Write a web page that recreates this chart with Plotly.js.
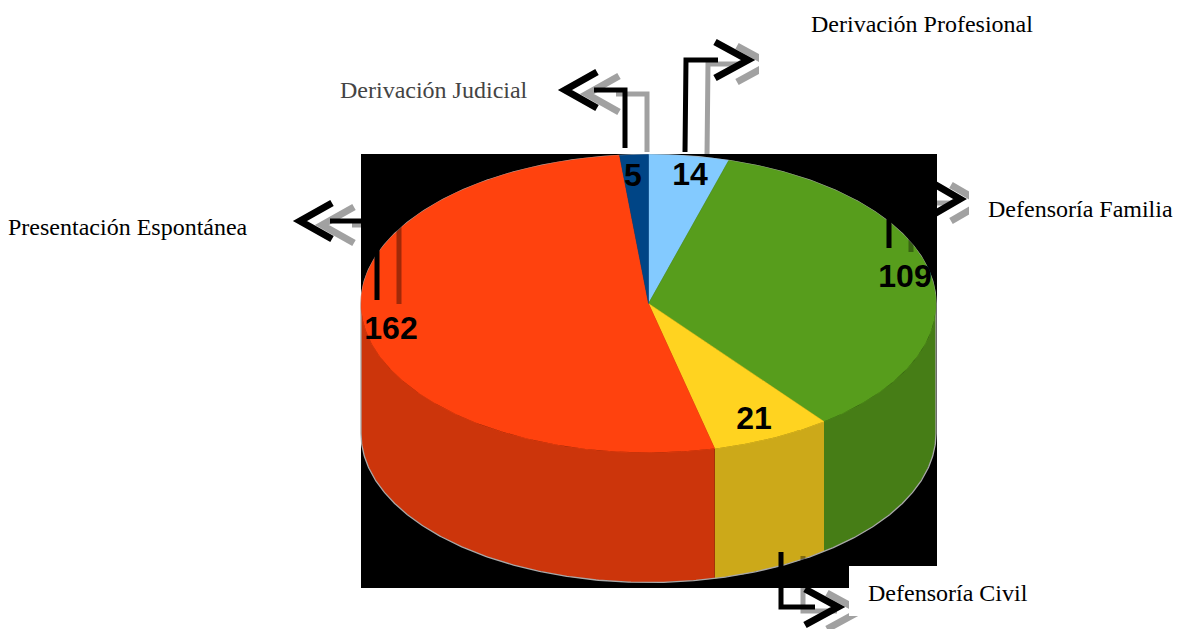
<!DOCTYPE html>
<html>
<head>
<meta charset="utf-8">
<script src="https://cdn.plot.ly/plotly-3.0.1.min.js"></script>
<style>html,body{margin:0;padding:0;background:#fff}#c{width:1178px;height:629px}</style>
</head>
<body>
<div id="c"></div>
<script>
// Data, clockwise from 12 o'clock
const categories = ['Derivación Profesional','Defensoría Familia','Defensoría Civil','Presentación Espontánea','Derivación Judicial'];
const values = [14,109,21,162,5];
const topColors = ['#83caff','#579d1c','#ffd320','#ff420e','#004586'];
const sideColors = ['#699fcc','#467d16','#cca919','#cc350b','#00376b'];
const categoryColors = ['#000000','#000000','#000000','#000000','#444444'];

// Layout of the drawing
const W = 1178, H = 629;
const pie = {cx:648.5, cy:303.5, rx:287.5, ry:149, depth:130};
const labelX = [690,905,754,391,633];
const labelY = [177,279,421,331,178];
const catX = [809,986,866,6,338];
const catY = [24,209,593,227,90];
const shadowDx = 22, shadowDy = 4;
const leaders = [
  {line:[[685,152],[686,60],[718,60]], chev:[[715,42],[748,60],[715,78]]},
  {line:[[889,248],[889,199],[930,199]], chev:[[929,181],[960,199],[929,217]]},
  {line:[[781,552],[781,607],[815,607]], chev:[[805,589],[838,607],[805,625]]},
  {line:[[377,300],[377,221],[330,221]], chev:[[332,203],[300,221],[332,239]]},
  {line:[[625,148],[625,90],[594,90]], chev:[[597,72],[565,90],[597,108]]}
];
const whiteBoxes = [[759,36,1040,92],[969,170,1178,232],[849,566,1060,616]];

function ex(a){return pie.cx+pie.rx*Math.sin(a*Math.PI/180);}
function ey(a){return pie.cy-pie.ry*Math.cos(a*Math.PI/180);}
function arc(a0,a1,dy){
  const n=Math.max(2,Math.ceil(Math.abs(a1-a0)*2)), xs=[], ys=[];
  for(let i=0;i<=n;i++){const a=a0+(a1-a0)*i/n; xs.push(ex(a)); ys.push(ey(a)+dy);}
  return [xs,ys];
}
const total = values.reduce((s,v)=>s+v,0);
let start = 0;
const sides = [], tops = [];
values.forEach((v,i)=>{
  const end = start+v/total*360;
  const s0=Math.max(start,90), s1=Math.min(end,270);
  if(s1>s0){
    const [tx,ty]=arc(s0,s1,0), [bx,by]=arc(s1,s0,pie.depth);
    sides.push({type:'scatter',mode:'lines',x:tx.concat(bx),y:ty.concat(by),fill:'toself',fillcolor:sideColors[i],line:{width:0},hoverinfo:'skip'});
  }
  const [ax,ay]=arc(start,end,0);
  tops.push({type:'scatter',mode:'lines',x:[pie.cx].concat(ax,[pie.cx]),y:[pie.cy].concat(ay,[pie.cy]),fill:'toself',fillcolor:topColors[i],line:{width:0.5,color:topColors[i]},hoverinfo:'skip'});
  start = end;
});
const [ux,uy]=arc(-90,90,0), [lx,ly]=arc(90,270,pie.depth);
const outline = {type:'scatter',mode:'lines',x:ux.concat(lx,[ux[0]]),y:uy.concat(ly,[uy[0]]),line:{width:1.3,color:'#a8a8a8'},hoverinfo:'skip'};
const labels = {type:'scatter',mode:'text',x:labelX,y:labelY,text:values.map(String),textposition:'middle center',
  textfont:{family:'"Liberation Sans", Arial, sans-serif',size:32,color:'#000',weight:700},hoverinfo:'skip'};

function pathOf(p,dx,dy){
  return p.map((q,i)=>(i?'L':'M')+(q[0]+dx)+' '+(q[1]+dy)).join(' ');
}
const shapes = [{type:'rect',xref:'x',yref:'y',x0:361,x1:937,y0:154,y1:588,fillcolor:'#000',line:{width:0},layer:'below'}];
leaders.forEach(l=>{
  shapes.push({type:'path',xref:'x',yref:'y',path:pathOf(l.line,shadowDx,shadowDy),line:{color:'rgba(0,0,0,0.37)',width:5},layer:'above'});
  shapes.push({type:'path',xref:'x',yref:'y',path:pathOf(l.chev,shadowDx,shadowDy),line:{color:'rgba(0,0,0,0.37)',width:7},layer:'above'});
});
leaders.forEach(l=>{
  shapes.push({type:'path',xref:'x',yref:'y',path:pathOf(l.line,0,0),line:{color:'#000',width:5},layer:'above'});
  shapes.push({type:'path',xref:'x',yref:'y',path:pathOf(l.chev,0,0),line:{color:'#000',width:7},layer:'above'});
});
whiteBoxes.forEach(b=>shapes.push({type:'rect',xref:'x',yref:'y',x0:b[0],y0:b[1],x1:b[2],y1:b[3],fillcolor:'#fff',line:{width:0},layer:'above'}));

const annotations = categories.map((c,i)=>({text:c,x:catX[i],y:catY[i],xref:'x',yref:'y',xanchor:'left',yanchor:'middle',showarrow:false,
  font:{family:'"Liberation Serif", "Times New Roman", serif',size:24,color:categoryColors[i]}}));

Plotly.newPlot('c',[...sides,outline,...tops,labels],{
  width:W,height:H,margin:{l:0,r:0,t:0,b:0},paper_bgcolor:'#fff',plot_bgcolor:'#fff',showlegend:false,
  xaxis:{range:[0,W],visible:false,fixedrange:true},
  yaxis:{range:[H,0],visible:false,fixedrange:true},
  shapes,annotations
},{displayModeBar:false,staticPlot:true});
</script>
</body>
</html>
